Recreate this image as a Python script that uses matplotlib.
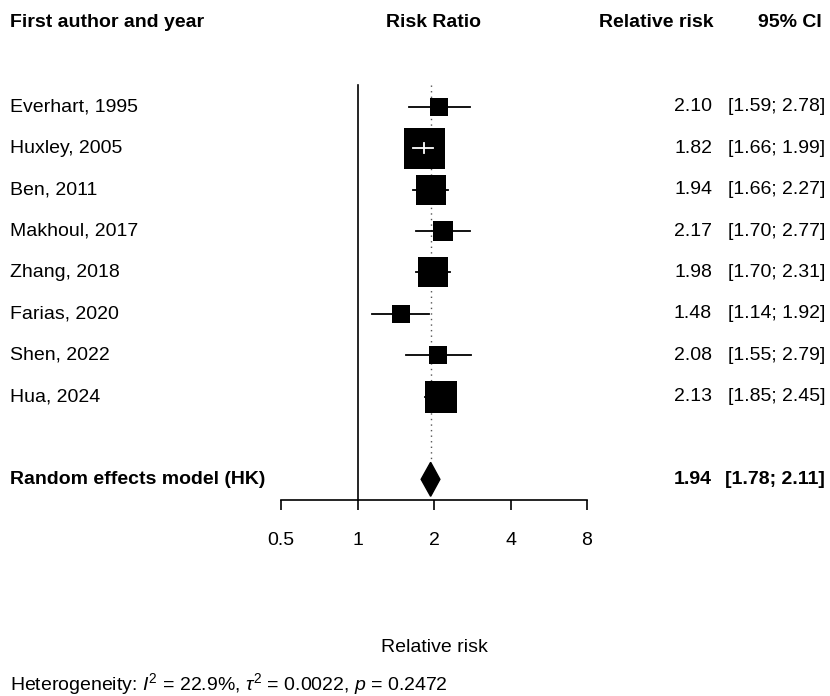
import numpy as np
import matplotlib.pyplot as plt
from matplotlib.patches import Polygon
from matplotlib.transforms import blended_transform_factory

plt.rcParams['font.family'] = ['Liberation Sans', 'DejaVu Sans']
plt.rcParams['font.size'] = 14
plt.rcParams['mathtext.fontset'] = 'custom'
plt.rcParams['mathtext.rm'] = 'Liberation Sans'
plt.rcParams['mathtext.it'] = 'Liberation Sans:italic'

# --- data ---
studies = ["Everhart, 1995", "Huxley, 2005", "Ben, 2011", "Makhoul, 2017",
           "Zhang, 2018", "Farias, 2020", "Shen, 2022", "Hua, 2024"]
rr = [2.10, 1.82, 1.94, 2.17, 1.98, 1.48, 2.08, 2.13]
lower = [1.59, 1.66, 1.66, 1.70, 1.70, 1.14, 1.55, 1.85]
upper = [2.78, 1.99, 2.27, 2.77, 2.31, 1.92, 2.79, 2.45]
weights = [5.7, 29.5, 14.8, 7.0, 14.8, 6.3, 5.1, 16.9]

pooled_rr, pooled_lo, pooled_hi = 1.94, 1.78, 2.11
pooled_label = "Random effects model (HK)"
x_ticks = [0.5, 1, 2, 4, 8]
x_ticklabels = ["0.5", "1", "2", "4", "8"]
hetero = r"Heterogeneity: $I^2$ = 22.9%, $\tau^2$ = 0.0022, $p$ = 0.2472"

W, H = 830, 696
fig = plt.figure(figsize=(W / 100, H / 100), dpi=100)
ax = fig.add_axes([281 / W, 1 - 500 / H, 306 / W, 415 / H])
ax.set_xscale('log', base=2)
ax.set_xlim(0.5, 8)
ax.set_ylim(10.5, 0.47)
for s in ['top', 'right', 'left']:
    ax.spines[s].set_visible(False)
ax.spines['bottom'].set_linewidth(1.2)
ax.set_yticks([])
ax.set_xticks(x_ticks)
ax.set_xticklabels(x_ticklabels)
ax.minorticks_off()
ax.tick_params(axis='x', length=7, width=1.2, pad=16, labelsize=14)
ax.set_xlabel("Relative risk", fontsize=14)
ax.xaxis.set_label_coords(0.5, -139 / 415)

rows = np.arange(1, len(studies) + 1)
pooled_row = len(studies) + 2

# reference lines
ax.plot([1, 1], [0.47, 10.5], color='black', lw=1.2, clip_on=False)
ax.plot([pooled_rr, pooled_rr], [0.47, pooled_row - 0.45], color='#555555',
        lw=1.0, ls=(0, (1, 3)))

px_per_row = 415 / (10.5 - 0.47)
max_side = 41  # px for largest box
for y, est, lo, hi, w in zip(rows, rr, lower, upper, weights):
    side = max_side * np.sqrt(w / max(weights))
    ax.plot([lo, hi], [y, y], color='black', lw=1.3, zorder=2)
    ax.plot([est], [y], marker='s', ms=side * 0.72, color='black',
            mec='black', mew=0, zorder=3)
    # CI inside the box: draw in white
    half_log = (side / 2) / (306 / 4)
    if np.log2(hi / est) < half_log and np.log2(est / lo) < half_log:
        ax.plot([lo, hi], [y, y], color='white', lw=1.3, zorder=4)
        ax.plot([est, est], [y - 0.12, y + 0.12], color='white', lw=1.3, zorder=4)

dh = 17 / px_per_row
diamond = Polygon([[pooled_lo, pooled_row], [pooled_rr, pooled_row - dh],
                   [pooled_hi, pooled_row], [pooled_rr, pooled_row + dh]],
                  closed=True, color='black', zorder=3)
ax.add_patch(diamond)

# text columns
tr = blended_transform_factory(fig.transFigure, ax.transData)
x_left = 10 / W
x_rr = 712 / W
x_ci = 825 / W
hdr_y = rows[0] - 84 / px_per_row
ax.text(x_left, hdr_y, "First author and year", transform=tr, ha='left',
        va='center', fontweight='bold')
ax.text(433 / W, hdr_y, "Risk Ratio", transform=tr, ha='center',
        va='center', fontweight='bold')
ax.text(713 / W, hdr_y, "Relative risk", transform=tr, ha='right',
        va='center', fontweight='bold')
ax.text(822 / W, hdr_y, "95% CI", transform=tr, ha='right',
        va='center', fontweight='bold')

for y, name, est, lo, hi in zip(rows, studies, rr, lower, upper):
    ax.text(x_left, y, name, transform=tr, ha='left', va='center')
    ax.text(x_rr, y, f"{est:.2f}", transform=tr, ha='right', va='center')
    ax.text(x_ci, y, f"[{lo:.2f}; {hi:.2f}]", transform=tr, ha='right', va='center')

ax.text(x_left, pooled_row, pooled_label, transform=tr, ha='left',
        va='center', fontweight='bold')
ax.text(x_rr, pooled_row, f"{pooled_rr:.2f}", transform=tr, ha='right',
        va='center', fontweight='bold')
ax.text(x_ci, pooled_row, f"[{pooled_lo:.2f}; {pooled_hi:.2f}]", transform=tr,
        ha='right', va='center', fontweight='bold')

fig.text(x_left, 1 - 684 / H, hetero, ha='left', va='center', fontsize=14)

fig.savefig("out.png", dpi=100)
